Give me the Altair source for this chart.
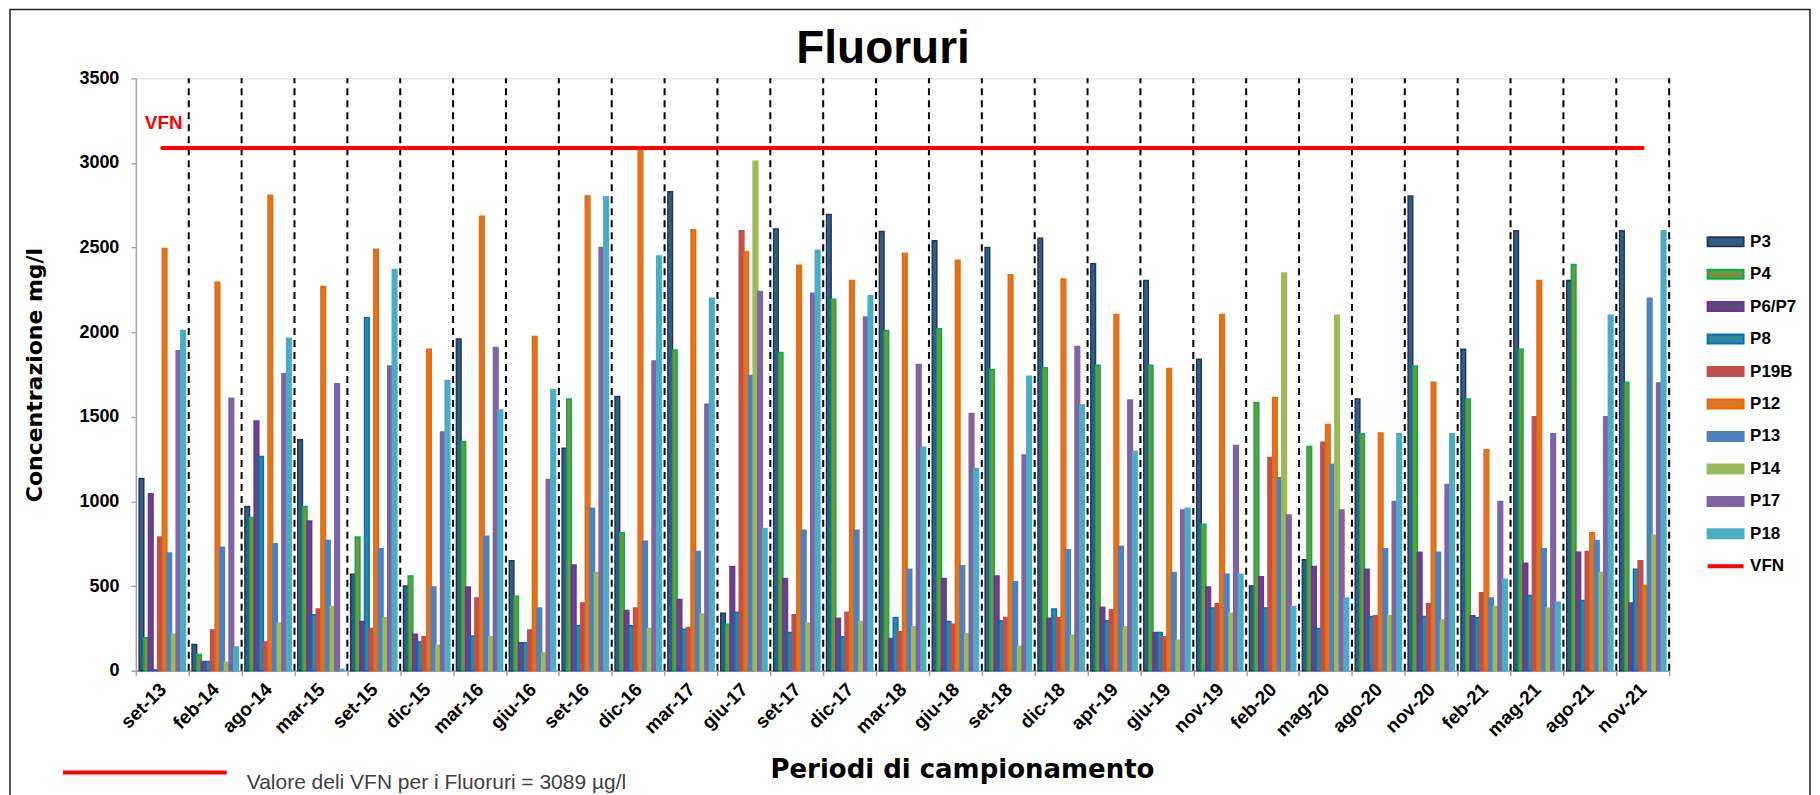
import altair as alt
import pandas as pd

# ---------------- data ----------------
periods = ["set-13", "feb-14", "ago-14", "mar-15", "set-15", "dic-15", "mar-16", "giu-16",
           "set-16", "dic-16", "mar-17", "giu-17", "set-17", "dic-17", "mar-18", "giu-18",
           "set-18", "dic-18", "apr-19", "giu-19", "nov-19", "feb-20", "mag-20", "ago-20",
           "nov-20", "feb-21", "mag-21", "ago-21", "nov-21"]

series = ["P3", "P4", "P6/P7", "P8", "P19B", "P12", "P13", "P14", "P17", "P18"]

P3 = [1135, 155, 970, 1365, 570, 500, 1960, 650, 1315, 1620, 2830, 340, 2610, 2695, 2595,
      2540, 2500, 2555, 2405, 2305, 1840, 500, 655, 1605, 2805, 1900, 2600, 2305, 2600]
P4 = [195, 95, 905, 970, 790, 560, 1355, 440, 1605, 815, 1895, 275, 1880, 2195, 2010,
      2020, 1780, 1790, 1805, 1805, 865, 1585, 1325, 1400, 1800, 1605, 1900, 2400, 1705]
P6_P7 = [1045, 55, 1475, 885, 290, 215, 495, 165, 625, 355, 420, 615, 545, 310, 190,
         545, 560, 310, 375, 225, 495, 555, 615, 600, 700, 325, 635, 700, 400]
P8 = [5, 55, 1265, 330, 2085, 170, 205, 165, 265, 265, 245, 345, 225, 200, 315,
      290, 295, 365, 295, 225, 370, 370, 250, 320, 320, 315, 445, 415, 600]
P19B = [790, 240, 170, 365, 250, 200, 430, 240, 400, 370, 255, 2600, 330, 345, 230,
        275, 315, 315, 360, 200, 395, 1260, 1350, 325, 395, 460, 1500, 705, 650]
P12 = [2495, 2295, 2810, 2270, 2490, 1900, 2685, 1975, 2805, 3085, 2605, 2475, 2395, 2305, 2465,
       2425, 2340, 2315, 2105, 1785, 2105, 1615, 1455, 1405, 1705, 1305, 2305, 815, 505]
P13 = [695, 730, 750, 770, 720, 495, 795, 370, 960, 765, 705, 1745, 830, 830, 600,
       620, 525, 715, 735, 580, 570, 1140, 1220, 720, 700, 430, 720, 770, 2200]
P14 = [215, 50, 280, 380, 315, 150, 200, 105, 580, 250, 335, 3010, 280, 290, 260,
       220, 145, 210, 260, 180, 340, 2350, 2100, 325, 300, 380, 370, 580, 800]
P17 = [1890, 1610, 1755, 1695, 1800, 1410, 1910, 1130, 2500, 1830, 1575, 2240, 2230, 2090, 1810,
       1520, 1275, 1915, 1600, 950, 1330, 920, 950, 1000, 1100, 1000, 1400, 1500, 1700]
P18 = [2010, 140, 1965, 8, 2370, 1715, 1540, 1660, 2800, 2450, 2200, 840, 2485, 2215, 1320,
       1195, 1740, 1570, 1295, 960, 570, 380, 430, 1400, 1400, 540, 405, 2100, 2600]

VFN = 3089
y_ticks = [0, 500, 1000, 1500, 2000, 2500, 3000, 3500]

TITLE = "Fluoruri"
X_TITLE = "Periodi di campionamento"
Y_TITLE = "Concentrazione mg/l"
NOTE = "Valore deli VFN per i Fluoruri = 3089 \u00b5g/l"

# ---------------- styles ----------------
fills = ["#335D86", "#77933C", "#604A7B", "#31859C", "#C0504D",
         "#E07324", "#4F81BD", "#9BBB59", "#8064A2", "#4BACC6"]
strokes = ["#1F3A57", "#00B050", "#7030A0", "#0070C0", "#C0504D",
           "#E46C0A", "#4F81BD", "#9BBB59", "#8064A2", "#4BACC6"]
VFN_COLOR = "#FF0000"

W, H = 1535, 593
PAD = {"left": 128, "top": 70, "right": 143, "bottom": 124}
AXIS_GREY = "#A6A6A6"
LEG_X, LEG_Y, LEG_STEP = 1583, 155, 32.5

fill_scale = alt.Scale(domain=series, range=fills)
stroke_scale = alt.Scale(domain=series, range=strokes)

RECT = "M-3.6,-0.9H3.6V0.9H-3.6Z"
LINE = "M-3.6,0H3.6"
leg_common = dict(title=None, orient="none", legendX=LEG_X, padding=0,
                  symbolSize=100, labelFont="Liberation Sans", labelFontSize=17,
                  labelFontWeight="bold", labelColor="black", labelOffset=16)
bar_legend = alt.Legend(legendY=LEG_Y, symbolType=RECT, symbolStrokeWidth=2,
                        rowPadding=LEG_STEP - 18, **leg_common)
vfn_legend = alt.Legend(legendY=LEG_Y + 10 * LEG_STEP, symbolType=LINE,
                        symbolStrokeColor=VFN_COLOR, symbolStrokeWidth=4, **leg_common)

# ---------------- tables ----------------
values = [P3, P4, P6_P7, P8, P19B, P12, P13, P14, P17, P18]
rows = []
for s, vals in zip(series, values):
    for p, v in zip(periods, vals):
        rows.append({"period": p, "series": s, "value": v})
bars_df = pd.DataFrame(rows)
vfn_df = pd.DataFrame({"period": periods, "series": ["VFN"] * len(periods),
                       "value": [VFN] * len(periods)})
vfn_lab_df = pd.DataFrame({"period": [periods[0]], "value": [VFN], "label": ["VFN"]})
bound_df = pd.DataFrame({"period": periods})
one = pd.DataFrame({"k": [0]})

x_axis = alt.Axis(
    title=X_TITLE, titleX=827, titleY=99, titleAlign="center",
    titleBaseline="middle", titleFont="DejaVu Sans", titleFontSize=26,
    titleFontWeight="bold", titleColor="black",
    labelAngle=-45, labelAlign="right", labelBaseline="top", labelFont="Liberation Sans",
    labelFontSize=19, labelFontWeight="bold", labelColor="black", labelPadding=4,
    labelOffset=-6, labelOverlap=False, tickBand="extent", tickSize=5, tickWidth=1.5,
    tickColor=AXIS_GREY, domainColor=AXIS_GREY, domainWidth=1.5, grid=False,
)
y_axis = alt.Axis(
    values=y_ticks, format="d", grid=False, title=Y_TITLE, titleX=-101, titleY=H / 2,
    titleAngle=-90, titleAlign="center", titleBaseline="middle", titleFont="DejaVu Sans",
    titleFontSize=22, titleFontWeight="bold", titleColor="black",
    labelFont="Liberation Sans", labelFontSize=18, labelFontWeight="bold",
    labelColor="black", labelPadding=12, tickSize=5, tickWidth=1.5,
    tickColor=AXIS_GREY, domainColor=AXIS_GREY, domainWidth=1.5,
)

x_enc = alt.X("period:N", sort=periods, scale=alt.Scale(paddingInner=0, paddingOuter=0),
              axis=x_axis)
y_scale = alt.Scale(domain=[0, 3500], nice=False)

frame = alt.Chart(one).mark_rect(fill="transparent", stroke="#222222", strokeWidth=1.5).encode(
    x=alt.value(-126), x2=alt.value(1676), y=alt.value(-69), y2=alt.value(740))

title = alt.Chart(one).mark_text(
    align="center", baseline="alphabetic", font="Liberation Sans", fontWeight="bold",
    fontSize=46, color="black").encode(
    x=alt.value(748), y=alt.value(-15), text=alt.value(TITLE))

bars = alt.Chart(bars_df).mark_bar(strokeWidth=1.5).encode(
    x=x_enc,
    xOffset=alt.XOffset("series:N", scale=alt.Scale(domain=series, paddingInner=0,
                                                      paddingOuter=0.714)),
    y=alt.Y("value:Q", scale=y_scale, axis=y_axis),
    fill=alt.Fill("series:N", scale=fill_scale, legend=bar_legend),
    stroke=alt.Stroke("series:N", scale=stroke_scale, legend=bar_legend),
)

rules = alt.Chart(bound_df).mark_rule(color="black", strokeWidth=2, strokeDash=[7, 5]).encode(
    x=alt.X("period:N", sort=periods, bandPosition=1),
    y=alt.datum(0), y2=alt.datum(3500),
)

line = alt.Chart(vfn_df).mark_line(strokeWidth=4, strokeCap="round", color=VFN_COLOR).encode(
    x=alt.X("period:N", sort=periods),
    y=alt.Y("value:Q"),
    strokeDash=alt.StrokeDash("series:N", scale=alt.Scale(domain=["VFN"], range=[[1, 0]]),
                              legend=vfn_legend),
)

vfn_label = alt.Chart(vfn_lab_df).mark_text(
    color=VFN_COLOR, font="Liberation Sans", fontWeight="bold", fontSize=19,
    baseline="alphabetic", align="center", dx=1.5, dy=-19).encode(
    x=alt.X("period:N", sort=periods), y=alt.Y("value:Q"), text="label:N")

note_line = alt.Chart(one).mark_rule(color=VFN_COLOR, strokeWidth=4).encode(
    x=alt.value(-73), x2=alt.value(91), y=alt.value(695))
note_text = alt.Chart(one).mark_text(
    align="left", baseline="alphabetic", font="Liberation Sans", fontSize=21,
    color="#404040").encode(
    x=alt.value(111), y=alt.value(711), text=alt.value(NOTE))

chart = alt.layer(frame, title, rules, bars, line, vfn_label, note_line, note_text).properties(
    width=W, height=H,
    autosize=alt.AutoSizeParams(type="none"),
    padding=PAD,
).configure_view(stroke=None).configure(background="white")

chart.save("out.html", embed_options={"renderer": "svg", "actions": False})
